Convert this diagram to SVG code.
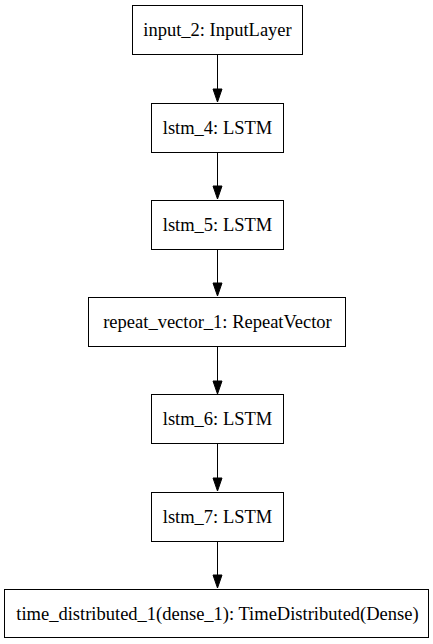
<svg xmlns="http://www.w3.org/2000/svg" width="433" height="644" viewBox="0 0 433 644">
<style>
.n rect{fill:#fff;stroke:#000;stroke-width:1}
.n text{font-family:"Liberation Serif",serif;font-size:18.5px;text-anchor:middle;fill:#000}
.e line{stroke:#000;stroke-width:1}
.e polygon{fill:#000;stroke:#000;stroke-width:1}
</style>
<rect width="433" height="644" fill="#fff"/>
<g class="e" id="edges">
<line x1="217.5" y1="54" x2="217.5" y2="89"/><polygon points="213,89 222,89 217.5,102"/>
<line x1="217.5" y1="152" x2="217.5" y2="186"/><polygon points="213,186 222,186 217.5,199"/>
<line x1="217.5" y1="249" x2="217.5" y2="283"/><polygon points="213,283 222,283 217.5,296"/>
<line x1="217.5" y1="346" x2="217.5" y2="381"/><polygon points="213,381 222,381 217.5,394"/>
<line x1="217.5" y1="443" x2="217.5" y2="478"/><polygon points="213,478 222,478 217.5,491"/>
<line x1="217.5" y1="541" x2="217.5" y2="575"/><polygon points="213,575 222,575 217.5,588"/>
</g>
<g class="n" id="input_2"><rect x="132.5" y="5.5" width="170" height="49"/><text x="217.5" y="36">input_2: InputLayer</text></g>
<g class="n" id="lstm_4"><rect x="151.5" y="103.5" width="132" height="49"/><text x="217.5" y="134">lstm_4: LSTM</text></g>
<g class="n" id="lstm_5"><rect x="151.5" y="200.5" width="132" height="49"/><text x="217.5" y="231">lstm_5: LSTM</text></g>
<g class="n" id="repeat_vector_1"><rect x="88.5" y="297.5" width="257" height="49"/><text x="217.5" y="328">repeat_vector_1: RepeatVector</text></g>
<g class="n" id="lstm_6"><rect x="151.5" y="394.5" width="132" height="49"/><text x="217.5" y="425">lstm_6: LSTM</text></g>
<g class="n" id="lstm_7"><rect x="151.5" y="492.5" width="132" height="49"/><text x="217.5" y="523">lstm_7: LSTM</text></g>
<g class="n" id="time_distributed_1"><rect x="4.5" y="589.5" width="424" height="48"/><text x="217.5" y="619.5">time_distributed_1(dense_1): TimeDistributed(Dense)</text></g>
</svg>
